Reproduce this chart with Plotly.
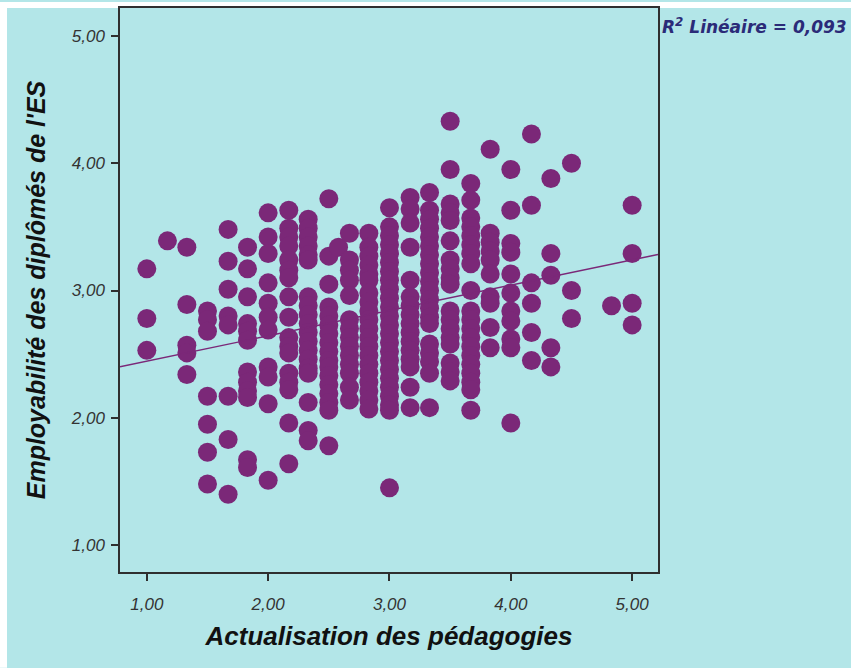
import plotly.graph_objects as go

# Predictor levels (Actualisation des pédagogies) and observed outcome values per level
x_levels = [1.00, 1.17, 1.33, 1.50, 1.67, 1.83, 2.00, 2.17, 2.33, 2.50, 2.58, 2.67,
            2.83, 3.00, 3.17, 3.33, 3.50, 3.67, 3.83, 4.00, 4.17, 4.33, 4.50, 4.83, 5.00]

y_columns = [
    [3.17, 2.78, 2.53],
    [3.39],
    [3.34, 2.89, 2.57, 2.51, 2.34],
    [2.84, 2.77, 2.68, 2.17, 1.95, 1.73, 1.48],
    [3.48, 3.23, 3.01, 2.80, 2.73, 2.17, 1.83, 1.40],
    [3.34, 3.17, 2.95, 2.74, 2.68, 2.61, 2.36, 2.28, 2.21, 2.16, 1.67, 1.61],
    [3.61, 3.42, 3.29, 3.06, 2.90, 2.79, 2.69, 2.40, 2.32, 2.11, 1.51],
    [3.63, 3.49, 3.42, 3.35, 3.24, 3.16, 3.10, 2.95, 2.79, 2.63, 2.56, 2.51, 2.35,
     2.28, 2.22, 1.96, 1.64],
    [3.56, 3.49, 3.42, 3.35, 3.28, 3.24, 2.95, 2.88, 2.81, 2.74, 2.67, 2.60, 2.53,
     2.46, 2.39, 2.35, 2.12, 1.90, 1.82],
    [3.72, 3.27, 3.05, 2.87, 2.80, 2.73, 2.66, 2.59, 2.52, 2.45, 2.40, 2.33, 2.26,
     2.19, 2.12, 2.06, 1.78],
    [3.34],
    [3.45, 3.24, 3.16, 3.08, 2.96, 2.77, 2.70, 2.63, 2.56, 2.49, 2.42, 2.35, 2.24, 2.14],
    [3.45, 3.34, 3.27, 3.20, 3.13, 3.08, 2.98, 2.91, 2.84, 2.77, 2.70, 2.63, 2.56,
     2.49, 2.42, 2.35, 2.28, 2.21, 2.14, 2.07],
    [3.65, 3.50, 3.43, 3.36, 3.29, 3.22, 3.15, 3.08, 3.01, 2.94, 2.87, 2.80, 2.73,
     2.66, 2.59, 2.52, 2.45, 2.38, 2.31, 2.24, 2.17, 2.10, 2.06, 1.45],
    [3.73, 3.64, 3.53, 3.34, 3.08, 2.95, 2.88, 2.81, 2.74, 2.67, 2.60, 2.53, 2.46,
     2.40, 2.24, 2.08],
    [3.77, 3.63, 3.56, 3.49, 3.42, 3.35, 3.28, 3.21, 3.14, 3.07, 3.00, 2.93, 2.86,
     2.79, 2.74, 2.58, 2.51, 2.44, 2.35, 2.08],
    [4.33, 3.95, 3.68, 3.61, 3.55, 3.39, 3.24, 3.17, 3.10, 3.05, 2.84, 2.77, 2.70,
     2.63, 2.58, 2.43, 2.36, 2.29],
    [3.84, 3.71, 3.57, 3.50, 3.43, 3.36, 3.29, 3.21, 3.00, 2.84, 2.77, 2.70, 2.63,
     2.56, 2.49, 2.42, 2.35, 2.28, 2.22, 2.06],
    [4.11, 3.45, 3.38, 3.31, 3.24, 3.13, 2.95, 2.90, 2.71, 2.55],
    [3.95, 3.63, 3.37, 3.30, 3.13, 2.98, 2.84, 2.76, 2.62, 2.55, 1.96],
    [4.23, 3.67, 3.06, 2.90, 2.67, 2.45],
    [3.88, 3.29, 3.12, 2.55, 2.40],
    [4.00, 3.00, 2.78],
    [2.88],
    [3.67, 3.29, 2.90, 2.73],
]

# Linear fit (R² = 0,093)
fit_intercept = 2.246
fit_slope = 0.199
r2_text = "R<sup>2</sup> Linéaire = 0,093"

tick_vals = [1, 2, 3, 4, 5]
tick_text = ["1,00", "2,00", "3,00", "4,00", "5,00"]

x_title = "Actualisation des pédagogies"
y_title = "Employabilité des diplômés de l'ES"

x_range = [0.779, 5.213]
y_range = [0.789, 5.219]

BG = "#B3E6E8"
PURPLE = "#7B2878"
AXIS = "#2F2F2F"

xs, ys = [], []
for xv, col in zip(x_levels, y_columns):
    for yv in col:
        xs.append(xv)
        ys.append(yv)

fig = go.Figure()

fig.add_trace(go.Scatter(
    x=xs, y=ys, mode="markers",
    marker=dict(size=19, color=PURPLE, line=dict(width=0)),
    hoverinfo="x+y", showlegend=False,
))

fig.add_trace(go.Scatter(
    x=x_range,
    y=[fit_intercept + fit_slope * v for v in x_range],
    mode="lines", line=dict(color=PURPLE, width=1.4),
    hoverinfo="skip", showlegend=False,
))

tick_font = dict(family="Liberation Sans, Arial, sans-serif", size=17,
                 color="#333333", style="italic")

fig.update_xaxes(
    range=x_range, tickvals=tick_vals, ticktext=tick_text,
    showgrid=False, zeroline=False,
    showline=True, mirror=True, linecolor=AXIS, linewidth=1.5,
    ticks="outside", ticklen=7, tickwidth=1.5, tickcolor=AXIS,
    tickfont=tick_font, ticklabelstandoff=9,
    title=dict(text=x_title, standoff=14,
               font=dict(family="Liberation Sans, Arial, sans-serif", size=26,
                         color="#111111", style="italic", weight="bold")),
)
fig.update_yaxes(
    range=y_range, tickvals=tick_vals, ticktext=tick_text,
    showgrid=False, zeroline=False,
    showline=True, mirror=True, linecolor=AXIS, linewidth=1.5,
    ticks="outside", ticklen=7, tickwidth=1.5, tickcolor=AXIS,
    tickfont=tick_font, ticklabelstandoff=3,
    title=dict(text=y_title, standoff=18,
               font=dict(family="Liberation Sans, Arial, sans-serif", size=25,
                         color="#111111", style="italic", weight="bold")),
)

plot_w = 851 - 120 - 193
plot_h = 668 - 6 - 96

fig.update_layout(
    width=851, height=668,
    margin=dict(l=120, r=193, t=6, b=96),
    paper_bgcolor=BG, plot_bgcolor=BG,
    shapes=[
        # thin white border along the top and left edges of the canvas
        dict(type="rect", xref="paper", yref="paper",
             x0=-120 / plot_w, x1=(851 - 120) / plot_w,
             y0=1, y1=1 + 6 / plot_h,
             fillcolor="white", line=dict(width=0), layer="below"),
        dict(type="rect", xref="paper", yref="paper",
             x0=-120 / plot_w, x1=-113 / plot_w,
             y0=-96 / plot_h, y1=1 + 6 / plot_h,
             fillcolor="white", line=dict(width=0), layer="below"),
    ],
    annotations=[
        dict(text=r2_text, xref="paper", yref="paper",
             x=1.003, y=(572 - 24) / plot_h, xanchor="left", yanchor="middle",
             showarrow=False,
             font=dict(family="DejaVu Sans, Verdana, sans-serif", size=17,
                       color="#2B2B78", style="italic", weight="bold")),
    ],
)

fig.write_html("out.html")
